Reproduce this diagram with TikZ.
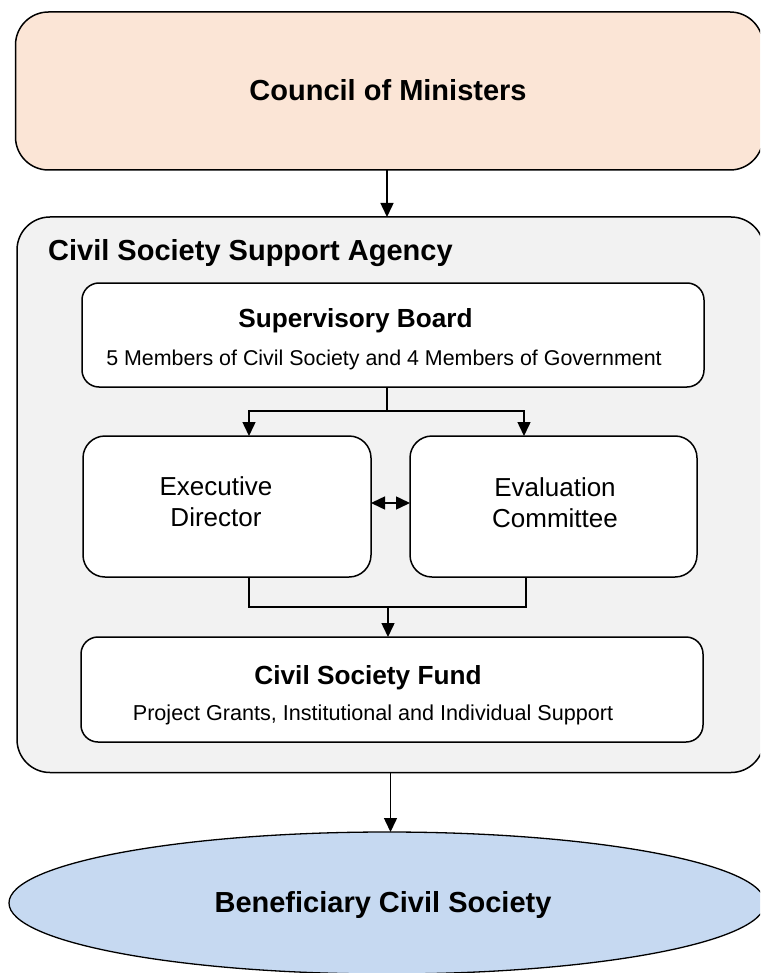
\documentclass[tikz,border=0pt]{standalone}
\usepackage{fontspec}
\setmainfont{Liberation Sans}
\usetikzlibrary{arrows.meta,shapes.geometric}
\definecolor{peach}{HTML}{FBE5D6}
\definecolor{agencygray}{HTML}{F2F2F2}
\definecolor{paleblue}{HTML}{C6D9F1}
\newcommand{\txtsize}[1]{\fontsize{#1}{#1}\selectfont}

\begin{document}
\begin{tikzpicture}[x=1pt,y=-1pt,
  box/.style={draw, line width=1.5pt, rounded corners=#1, inner sep=0pt, outer sep=0pt},
  link/.style={line width=1.5pt},
  arr/.style={line width=1.5pt, -{Triangle[length=14pt,width=13pt]}},
  dblarr/.style={line width=1.5pt, {Triangle[length=14pt,width=13pt]}-{Triangle[length=14pt,width=13pt]}},
  lbl/.style={inner sep=0pt, anchor=base}]
\useasboundingbox (0,0) rectangle (760,973);
\clip (0,0) rectangle (760,973);

% boxes
\node[box=33pt, fill=peach, minimum width=747.5pt, minimum height=158pt] (council) at (389.25,91) {};
\node[box=33pt, fill=agencygray, minimum width=747pt, minimum height=555.5pt] (agency) at (390.5,494.75) {};
\node[box=17pt, fill=white, minimum width=622pt, minimum height=104pt] (sup) at (393,335) {};
\node[box=22pt, fill=white, minimum width=288pt, minimum height=141pt] (exec) at (227,506.5) {};
\node[box=22pt, fill=white, minimum width=287pt, minimum height=141pt] (eval) at (553.5,506.5) {};
\node[box=17pt, fill=white, minimum width=622pt, minimum height=105pt] (fund) at (392,689.5) {};
\node[ellipse, draw, line width=1.3pt, fill=paleblue, inner sep=0pt, outer sep=0pt,
      minimum width=756pt, minimum height=142pt] (benef) at (387,903) {};

% labels
\node[lbl] (councilT) at (388,100.4) {\bfseries\txtsize{29}Council of Ministers};
\node[lbl, anchor=base west] (agencyT) at (48,260.4) {\bfseries\txtsize{29}Civil Society Support Agency};
\node[lbl] (supT) at (355.5,327.3) {\bfseries\txtsize{26.2}Supervisory Board};
\node[lbl] (supS) at (384,365.5) {\txtsize{21.4}5 Members of Civil Society and 4 Members of Government};
\node[lbl] (execA) at (216,495) {\txtsize{26}Executive};
\node[lbl] (execB) at (216,526) {\txtsize{26}Director};
\node[lbl] (evalA) at (555,496.5) {\txtsize{26}Evaluation};
\node[lbl] (evalB) at (555,527.5) {\txtsize{26}Committee};
\node[lbl] (fundT) at (368,684.3) {\bfseries\txtsize{26.2}Civil Society Fund};
\node[lbl] (fundS) at (373,720.7) {\txtsize{21.6}Project Grants, Institutional and Individual Support};
\node[lbl] (benefT) at (383,912.4) {\bfseries\txtsize{29}Beneficiary Civil Society};

% connectors
\coordinate (split) at (387,411);
\coordinate (merge) at (388,607);
\draw[arr] (council.south -| split) -- (agency.north -| split);
\draw[link] (sup.south -| split) -- (split);
\draw[arr] (split) -| ([xshift=22pt]exec.north);
\draw[arr] (split) -| ([xshift=-29.5pt]eval.north);
\draw[dblarr] ([yshift=3.5pt]exec.east) -- ([yshift=3.5pt]eval.west);
\draw[link] ([xshift=22pt]exec.south) |- (merge) -| ([xshift=-27.5pt]eval.south);
\draw[arr] (merge) -- (merge |- fund.north);
\draw[arr] (agency.south) -- (agency.south |- benef.north);
\end{tikzpicture}
\end{document}
